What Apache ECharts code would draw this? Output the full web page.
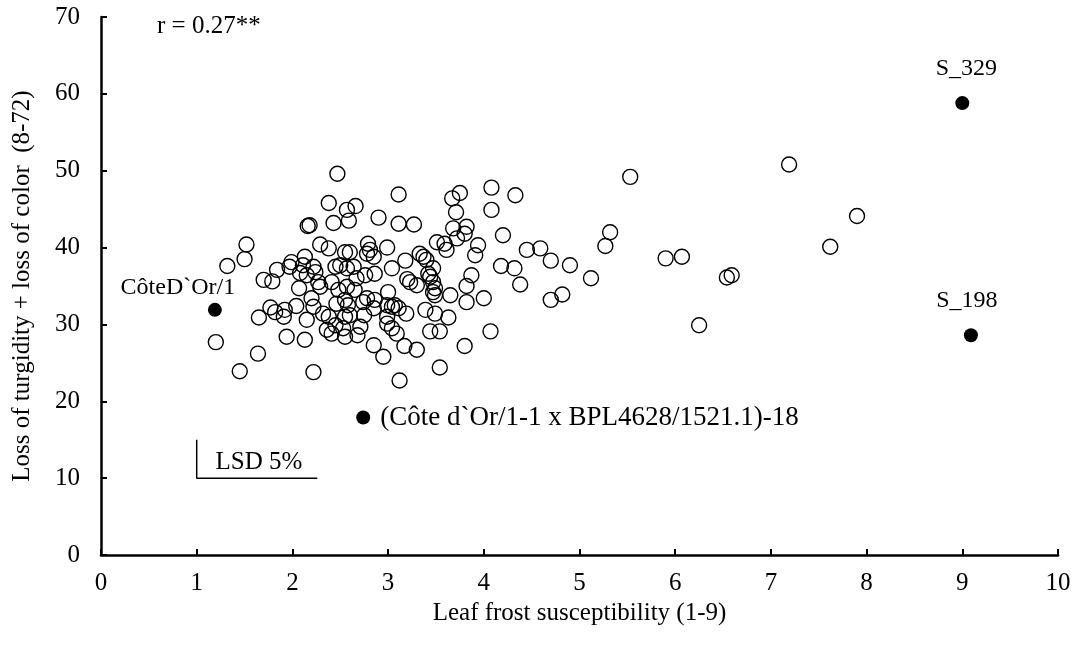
<!DOCTYPE html>
<html>
<head>
<meta charset="utf-8">
<script src="https://cdn.jsdelivr.net/npm/echarts@6/dist/echarts.min.js"></script>
<style>
  html, body { margin: 0; padding: 0; background: #fff; }
  #main { width: 1079px; height: 649px; }
</style>
</head>
<body>
<div id="main"></div>
<script>
// open circles: leaf frost (x) vs turgidity + color loss (y)
var frostX = [
  1.52,1.50,1.32,1.70,1.79,1.84,1.77,1.82,1.65,1.20,1.64,1.45,
  2.47,2.38,2.57,2.66,2.59,2.90,3.11,3.11,3.27,2.43,2.16,2.18,
  2.29,2.38,2.55,2.60,2.79,2.81,2.85,2.78,2.99,3.18,3.33,3.40,3.51,3.04,
  1.97,1.99,2.13,2.11,2.22,2.24,2.15,2.45,2.50,2.57,2.64,2.76,2.86,2.67,
  3.23,3.30,3.42,3.44,3.47,2.07,2.27,2.29,2.41,2.48,2.57,2.65,3.00,3.47,
  2.20,2.22,2.55,2.58,2.46,2.74,2.78,2.86,2.85,2.99,3.04,3.07,3.11,3.19,
  1.92,1.91,2.32,2.38,2.55,2.60,2.15,2.45,2.36,2.41,2.53,2.55,2.71,
  2.99,2.99,3.04,3.09,3.39,3.49,3.44,3.54,1.94,2.13,2.85,2.95,3.17,3.30,
  2.22,3.12,3.54,
  3.68,3.82,3.80,3.59,3.61,3.72,3.94,3.91,4.20,4.45,4.59,4.70,4.90,
  5.32,5.27,5.12,4.18,4.32,4.38,3.87,3.82,3.37,3.47,3.49,3.49,3.65,
  3.82,4.00,3.63,3.80,4.07,4.70,4.82,
  5.53,3.67,3.75,4.08,4.33,3.71,4.08,
  7.19,7.90,7.62,5.90,6.07,6.54,6.59,6.25,
  2.08,2.75,3.20,2.04,2.68
];
var lossY = [
  40.4,38.5,37.6,35.8,35.6,37.1,32.2,31.6,30.9,27.7,26.2,23.9,
  49.6,45.8,44.9,45.4,43.5,43.9,46.9,43.1,43.0,43.2,42.8,42.9,
  40.4,39.9,39.4,39.4,40.5,39.7,38.8,39.2,40.0,38.3,39.2,38.4,40.7,37.3,
  37.5,38.1,38.8,37.7,37.5,36.8,36.4,37.5,37.7,37.3,37.5,36.4,36.6,36.0,
  35.5,35.1,36.6,36.2,35.5,34.7,35.5,34.9,35.5,34.5,34.9,34.5,34.2,34.2,
  33.4,32.3,33.2,32.5,32.7,32.9,33.4,33.2,32.1,32.5,32.3,32.5,32.1,31.4,
  31.9,31.0,31.4,31.0,31.0,31.2,30.6,29.9,29.3,28.8,29.5,28.4,29.7,
  31.0,30.1,29.5,28.8,31.9,31.4,29.1,29.1,28.4,28.0,27.3,25.8,27.2,26.7,
  23.8,22.7,24.4,
  42.5,42.7,41.8,40.5,39.7,41.2,40.3,39.0,41.6,39.7,39.9,38.3,37.7,
  42.0,40.2,36.0,37.6,37.3,35.2,36.4,35.0,38.8,37.3,34.7,33.8,33.8,
  32.9,33.4,30.9,27.2,29.1,33.2,33.9,
  49.2,46.4,47.1,47.8,46.8,44.6,44.9,
  50.8,44.1,40.1,38.6,38.8,36.1,36.4,29.9,
  36.7,31.2,35.9,32.4,28.6
];

// highlighted genotypes
var markNames = ['CôteD`Or/1', '(Côte d`Or/1-1 x BPL4628/1521.1)-18', 'S_329', 'S_198'];
var markX = [1.19, 2.74, 9.00, 9.09];
var markY = [31.9, 17.9, 58.8, 28.6];

// LSD 5% bracket
var lsdX = [1, 1, 2.26];
var lsdY = [15, 10, 10];

var font = 'Liberation Serif, Times New Roman, serif';

var chart = echarts.init(document.getElementById('main'));

var openData = frostX.map(function (x, i) { return [x, lossY[i]]; });

var labelCfg = [
  { position: 'top', distance: 3, offset: [-37, 0], size: 24 },
  { position: 'right', distance: 10, offset: [0, 0], size: 27 },
  { position: 'top', distance: 15, offset: [4, 0], size: 24 },
  { position: 'top', distance: 15, offset: [-4, 0], size: 24 }
];
var markData = markX.map(function (x, i) {
  return {
    value: [x, markY[i]],
    name: markNames[i],
    label: {
      show: true,
      formatter: markNames[i],
      position: labelCfg[i].position,
      distance: labelCfg[i].distance,
      offset: labelCfg[i].offset,
      color: '#000',
      fontFamily: font,
      fontSize: labelCfg[i].size
    }
  };
});

var axisCommon = {
  axisLine: { show: true, lineStyle: { color: '#000', width: 2.5 } },
  axisTick: { show: true, inside: true, length: 6, lineStyle: { color: '#000', width: 2 } },
  splitLine: { show: false },
  nameTextStyle: { color: '#000', fontFamily: font, fontSize: 25 }
};

option = {
  backgroundColor: '#fff',
  animation: false,
  grid: { left: 101, right: 21, top: 17, bottom: 94 },
  xAxis: Object.assign({}, axisCommon, {
    type: 'value',
    min: 0, max: 10, interval: 1,
    name: 'Leaf frost susceptibility (1-9)',
    nameLocation: 'middle',
    nameGap: 30,
    axisLabel: { color: '#000', fontFamily: font, fontSize: 25, margin: 16 }
  }),
  yAxis: Object.assign({}, axisCommon, {
    type: 'value',
    min: 0, max: 70, interval: 10,
    name: 'Loss of turgidity + loss of color  (8-72)',
    nameLocation: 'middle',
    nameGap: 66,
    axisLabel: { color: '#000', fontFamily: font, fontSize: 25, margin: 21 }
  }),
  graphic: [{
    type: 'text', left: 157, top: 14,
    style: { text: 'r = 0.27**', fill: '#000', font: '25px ' + font }
  }],
  series: [
    {
      name: 'genotypes', type: 'scatter', symbol: 'circle', symbolSize: 15,
      itemStyle: { color: 'rgba(0,0,0,0)', borderColor: '#000', borderWidth: 1.4, opacity: 1 },
      emphasis: { disabled: true },
      data: openData
    },
    {
      name: 'marked', type: 'scatter', symbol: 'circle', symbolSize: 14,
      itemStyle: { color: '#000', opacity: 1 },
      emphasis: { disabled: true },
      data: markData
    },
    {
      name: 'lsd', type: 'line', symbol: 'none', silent: true,
      lineStyle: { color: '#000', width: 1.5 },
      data: lsdX.map(function (x, i) { return [x, lsdY[i]]; })
    },
    {
      name: 'lsdText', type: 'scatter', symbolSize: 0, silent: true,
      itemStyle: { color: '#000', opacity: 1 },
      label: {
        show: true, position: 'inside', formatter: 'LSD 5%',
        color: '#000', textBorderWidth: 0, fontFamily: font, fontSize: 25
      },
      data: [[1.65, 12.1]]
    }
  ]
};
chart.setOption(option);
</script>
</body>
</html>
